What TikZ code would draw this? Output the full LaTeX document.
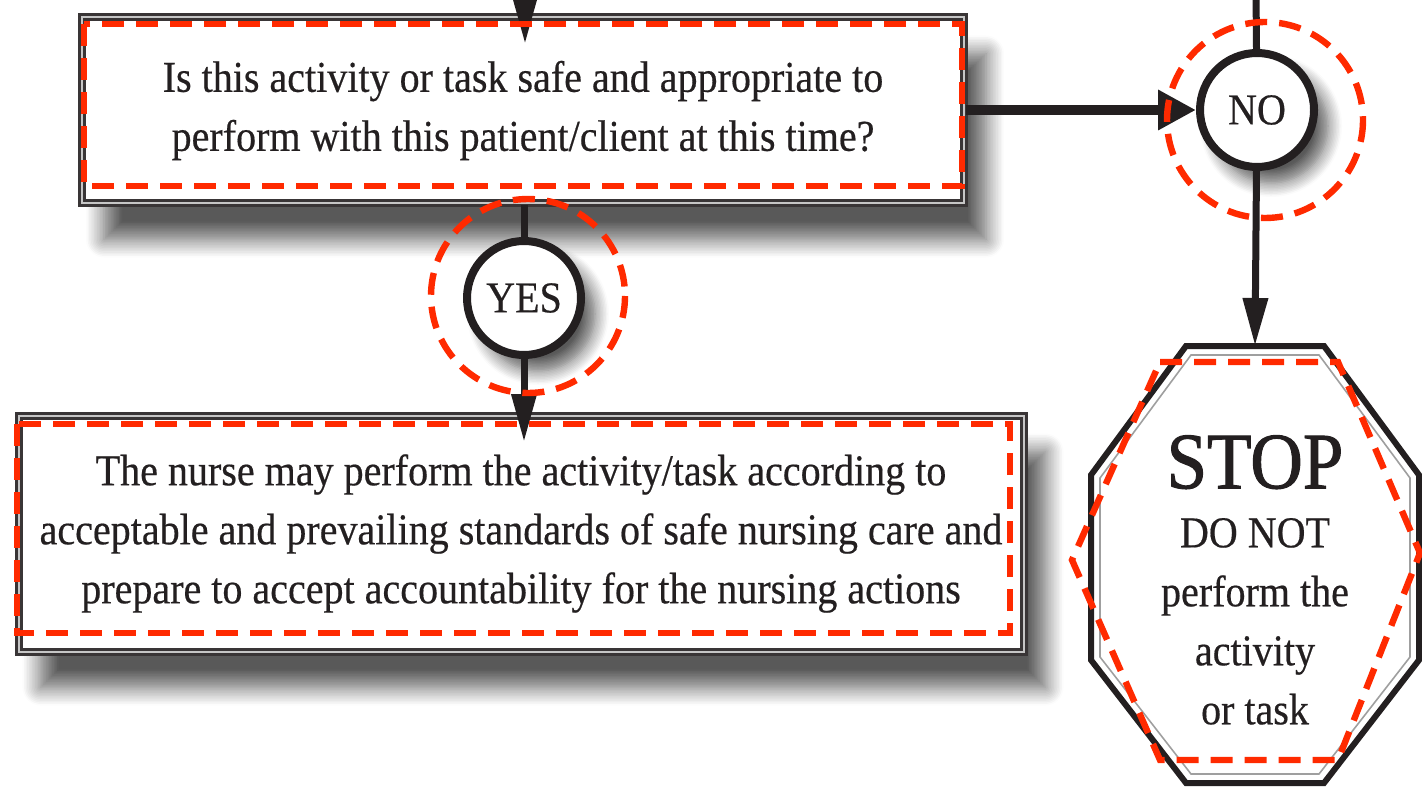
\documentclass[tikz,border=0pt]{standalone}
\usepackage{fontspec}
\setmainfont{Liberation Serif}[FakeStretch=0.91, FakeBold=0.4]
\usetikzlibrary{arrows.meta,calc,shadows.blur}
\definecolor{ink}{HTML}{231F20}
\definecolor{markred}{HTML}{FF2A00}
\tikzset
{
	askbox/.style = {rectangle, draw=ink!90, line width=1.5pt, double=gray!45, double distance=1pt, fill=white, align=center, inner sep=0pt, text=ink, font=\fontsize{22}{29.5}\selectfont, blur shadow={shadow xshift=11pt, shadow yshift=-18pt, shadow blur radius=9pt, shadow blur steps=12, shadow opacity=65}},
	answer/.style = {circle, draw=ink, line width=4pt, fill=white, minimum size=57pt, inner sep=0pt, text=ink, font=\fontsize{22}{26}\selectfont, blur shadow={shadow xshift=7pt, shadow yshift=-8pt, shadow blur radius=7pt, shadow blur steps=10, shadow opacity=65}},
	stoptext/.style = {align=center, inner sep=0pt, text=ink, font=\fontsize{22}{29.5}\selectfont},
	link/.style = {draw=ink, line width=3.5pt},
	flow/.style = {draw=ink, line width=3.5pt, -{Triangle[length=24pt, width=12pt]}},
	bigflow/.style = {draw=ink, line width=5pt, -{Triangle[length=19pt, width=19pt]}},
	redmark/.style = {draw=markred, line width=3.2pt, dash pattern=on 11pt off 6pt}
}

\begin{document}
\begin{tikzpicture}[x=0.5pt, y=-0.5pt]
\useasboundingbox (0,0) rectangle (1422,786);
\clip (0,0) rectangle (1422,786);

\node[askbox, minimum width=441pt, minimum height=93pt] (quest) at (523,110.5) {Is this activity or task safe and appropriate to\\perform with this patient/client at this time?};
\node[askbox, minimum width=502.5pt, minimum height=118pt] (act) at (521,533.5) {The nurse may perform the activity/task according to\\acceptable and prevailing standards of safe nursing care and\\prepare to accept accountability for the nursing actions};
\node[answer] (yes) at (524,298) {YES};
\node[answer] (no) at (1257,110) {NO};
\node[stoptext] (stop) at (1255,580) {{\fontsize{40}{29.5}\selectfont\addfontfeature{FakeBold=1.2}STOP}\\DO NOT\\perform the\\activity\\or task};

\draw[ink, line width=3pt] ($(stop)+(-69,-234)$) -- ($(stop)+(69,-234)$) -- ($(stop)+(164,-105)$) -- ($(stop)+(164,80)$) -- ($(stop)+(69,203)$) -- ($(stop)+(-69,203)$) -- ($(stop)+(-164,80)$) -- ($(stop)+(-164,-105)$) -- cycle;
\draw[gray!75, line width=0.8pt] ($(stop)+(-64,-225)$) -- ($(stop)+(64,-225)$) -- ($(stop)+(155,-102)$) -- ($(stop)+(155,77)$) -- ($(stop)+(64,194)$) -- ($(stop)+(-64,194)$) -- ($(stop)+(-155,77)$) -- ($(stop)+(-155,-102)$) -- cycle;

\coordinate (qin) at (525,-40);
\coordinate (noin) at (1256,-10);
\coordinate (stoptop) at ($(stop)+(0,-234)$);

\draw[flow, shorten >=-14pt] (qin) -- (qin |- quest.north);
\draw[link] (yes |- quest.south) -- (yes);
\draw[flow, shorten >=-14pt] (yes) -- (yes |- act.north);
\draw[bigflow] (quest.east |- no) -- (no);
\draw[link] (noin) -- (no);
\draw[flow] (no) -- (stoptop);

\draw[redmark] (84,24) rectangle (962,186);
\draw[redmark] (17,424) rectangle (1010,633);
\draw[redmark] (528,296) circle (97);
\draw[redmark] (1265,120) circle (98);
\draw[redmark] (1160,362) -- (1338,362) -- (1420,553) -- (1338,760) -- (1160,760) -- (1072,560) -- cycle;
\end{tikzpicture}
\end{document}
